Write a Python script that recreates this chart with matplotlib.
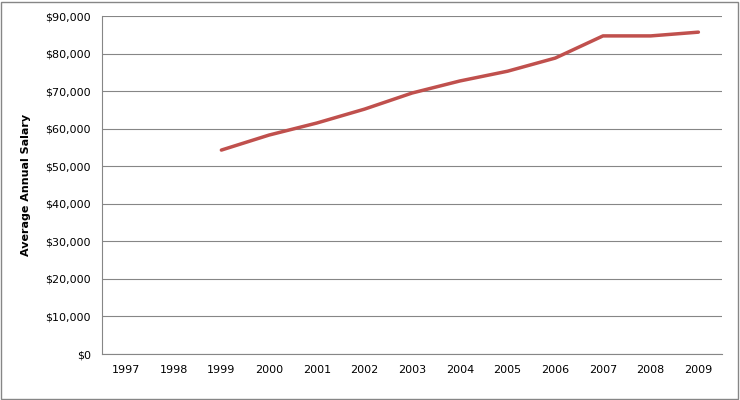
import matplotlib
matplotlib.use("Agg")
import matplotlib.pyplot as plt
from matplotlib.patches import Rectangle

years = [str(y) for y in range(1997, 2010)]
sal_years = ["1999","2000","2001","2002","2003","2004","2005","2006","2007","2008","2009"]
salary = [54300, 58300, 61500, 65200, 69500, 72700, 75300, 78800, 84700, 84700, 85700]

fig = plt.figure(figsize=(7.4, 4.0), dpi=100)
fig.patches.append(Rectangle((0.002, 0.003), 0.995, 0.993, transform=fig.transFigure,
                             fill=False, edgecolor="#868686", linewidth=1))
ax = fig.add_axes([0.138, 0.115, 0.838, 0.845])
xpos = [years.index(y) for y in sal_years]
ax.plot(xpos, salary, color="#C0504D", linewidth=2.5, solid_capstyle="round")
ax.set_xlim(-0.5, len(years) - 0.5)
ax.set_ylim(0, 90000)
ax.set_xticks(range(len(years)))
ax.set_xticklabels(years, fontsize=8)
yt = list(range(0, 90001, 10000))
ax.set_yticks(yt)
ax.set_yticklabels([f"${v:,}" for v in yt], fontsize=8)
ax.grid(axis="y", color="#868686", linewidth=0.8)
ax.set_axisbelow(True)
for s in ["top", "right"]:
    ax.spines[s].set_visible(False)
ax.spines["left"].set_color("#868686")
ax.spines["bottom"].set_color("#868686")
ax.tick_params(axis="both", length=0, pad=8)
ax.set_ylabel("Average Annual Salary", fontsize=8, fontweight="bold", labelpad=10)
fig.savefig("out.png", dpi=100)
